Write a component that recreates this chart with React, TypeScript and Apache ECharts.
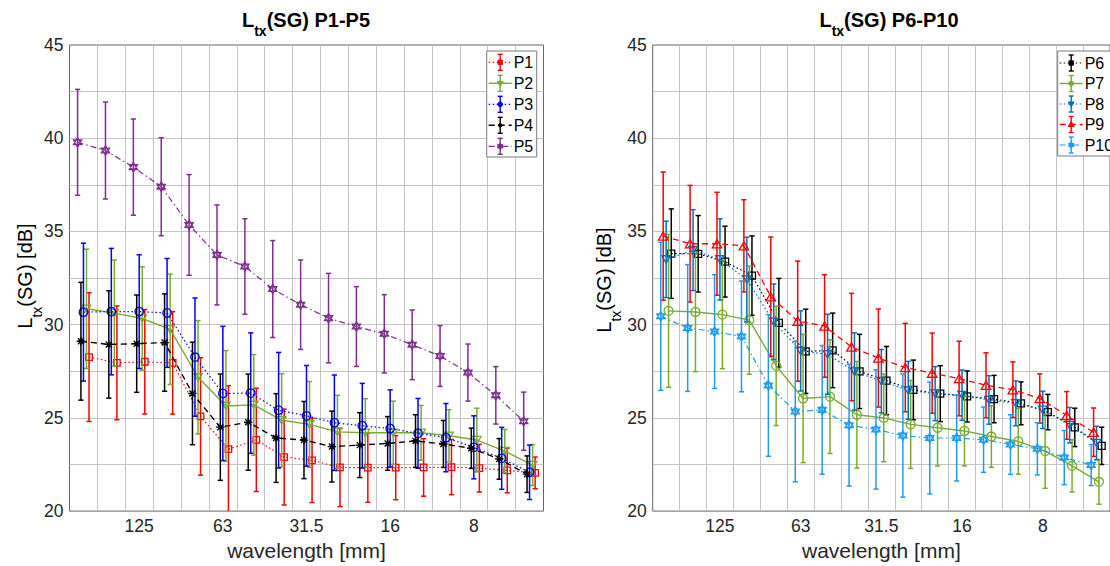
import React, { useEffect, useRef } from "react";
import * as echarts from "echarts";

// ---------- data ----------
const bands = ["200", "160", "125", "100", "80", "63", "50", "40", "31.5", "25", "20", "16", "12.5", "10", "8", "6.3", "5"];
const labeledBands = ["125", "63", "31.5", "16", "8"];

const p1Values = [28.26, 27.95, 28.01, 27.95, 25.08, 23.32, 23.82, 22.9, 22.72, 22.34, 22.33, 22.33, 22.34, 22.36, 22.3, 22.18, 22.05];
const p1Errors = [3.45, 3.05, 2.8, 2.75, 3.15, 3.4, 2.77, 2.57, 2.26, 2.1, 1.86, 1.72, 1.54, 1.48, 1.28, 1.2, 0.85];
const p2Values = [30.85, 30.62, 30.33, 29.75, 27.18, 25.64, 25.7, 24.87, 24.65, 24.25, 24.2, 24.2, 24.2, 24.04, 23.81, 23.22, 22.47];
const p2Errors = [3.2, 2.85, 2.77, 2.96, 3.04, 2.97, 2.7, 2.5, 2.3, 1.96, 1.83, 1.7, 1.47, 1.4, 1.71, 1.16, 1.1];
const p3Values = [30.67, 30.7, 30.7, 30.63, 28.26, 26.31, 26.33, 25.41, 25.11, 24.74, 24.58, 24.43, 24.17, 23.94, 23.42, 22.83, 22.08];
const p3Errors = [3.7, 3.39, 3.05, 2.92, 3.17, 3.6, 3.23, 3.1, 2.7, 2.56, 2.27, 2.07, 1.87, 1.83, 1.69, 1.66, 1.46];
const p4Values = [29.11, 28.94, 28.98, 29.04, 26.31, 24.5, 24.77, 23.92, 23.81, 23.46, 23.54, 23.63, 23.76, 23.6, 23.37, 22.8, 21.98];
const p4Errors = [3.16, 2.88, 2.61, 2.61, 2.75, 2.85, 2.58, 2.38, 2.07, 1.9, 1.74, 1.44, 1.41, 1.26, 1.08, 1.09, 0.98];
const p5Values = [39.78, 39.34, 38.45, 37.4, 35.35, 33.74, 33.12, 31.91, 31.07, 30.35, 29.9, 29.51, 28.92, 28.32, 27.43, 26.21, 24.82];
const p5Errors = [2.84, 2.6, 2.58, 2.63, 2.7, 2.68, 2.56, 2.6, 2.4, 2.4, 2.14, 2.1, 1.87, 1.63, 1.53, 1.54, 1.56];

const p6Values = [33.81, 33.8, 33.38, 32.63, 30.1, 28.57, 28.62, 27.49, 27.0, 26.5, 26.3, 26.15, 26.01, 25.78, 25.31, 24.49, 23.5];
const p6Errors = [2.4, 2.05, 1.9, 2.13, 2.38, 2.26, 2.0, 1.99, 1.83, 1.6, 1.5, 1.37, 1.27, 1.15, 0.95, 1.03, 1.0];
const p7Values = [30.74, 30.68, 30.54, 30.24, 27.79, 26.04, 26.14, 25.17, 25.0, 24.65, 24.47, 24.3, 24.0, 23.74, 23.22, 22.43, 21.57];
const p7Errors = [4.1, 3.2, 2.9, 2.9, 3.2, 3.44, 3.05, 2.86, 2.35, 2.36, 2.05, 1.88, 1.65, 1.76, 2.0, 1.4, 1.2];
const p8Values = [33.5, 34.0, 33.5, 32.42, 30.15, 28.59, 28.41, 27.49, 26.97, 26.48, 26.3, 26.22, 25.96, 25.78, 25.43, 24.61, 23.65];
const p8Errors = [2.05, 2.17, 2.18, 2.27, 2.03, 2.15, 2.15, 2.07, 1.7, 1.55, 1.45, 1.35, 1.3, 1.2, 1.0, 0.95, 0.9];
const p9Values = [34.75, 34.34, 34.34, 34.23, 31.5, 30.19, 29.93, 28.8, 28.21, 27.7, 27.4, 27.11, 26.75, 26.51, 26.04, 25.13, 24.23];
const p9Errors = [3.44, 3.13, 2.76, 2.47, 3.2, 3.22, 2.75, 2.88, 2.63, 2.37, 2.15, 2.0, 1.74, 1.49, 1.32, 1.28, 1.3];
const p10Values = [30.45, 29.82, 29.63, 29.37, 26.74, 25.34, 25.43, 24.61, 24.38, 24.05, 23.92, 23.92, 23.83, 23.57, 23.34, 22.87, 22.47];
const p10Errors = [3.97, 3.4, 3.05, 2.97, 3.8, 3.77, 3.45, 3.27, 3.2, 3.3, 3.0, 2.3, 1.75, 1.6, 1.4, 1.45, 1.1];

// ---------- styling ----------
const FONT = '"Liberation Sans", Arial, Helvetica, sans-serif';
const TXT = "#262626";
const GRIDC = "#c4c4c4";

const SYM_TRI_DOWN = "path://M0,0L10,0L5,8.66Z";
const SYM_TRI_UP = "path://M5,0L10,8.66L0,8.66Z";
const SYM_STAR = "path://M1.46,1.46L8.54,8.54M1.46,8.54L8.54,1.46M5,0L5,10M0,5L10,5";
const SYM_HEX = "path://M5,0L9.33,7.5L0.67,7.5Z M5,10L0.67,2.5L9.33,2.5Z";

const DOT = [1.5, 2.5];
const DASH = [6, 4];
const DASHDOT = [6, 3, 1.5, 3];

interface Spec {
  name: string;
  values: number[];
  errors: number[];
  color: string;
  dash: number[] | "solid";
  width: number;
  symbol: string;
  size: number;
  offset: number;
}

const leftSpecs: Spec[] = [
  { name: "P1", values: p1Values, errors: p1Errors, color: "#FF0000", dash: DOT, width: 1.2, symbol: "rect", size: 6.5, offset: 0.2 },
  { name: "P2", values: p2Values, errors: p2Errors, color: "#77AC30", dash: "solid", width: 1.4, symbol: SYM_TRI_DOWN, size: 8.5, offset: 0.11 },
  { name: "P3", values: p3Values, errors: p3Errors, color: "#0000FF", dash: DOT, width: 1.2, symbol: "circle", size: 8.5, offset: 0 },
  { name: "P4", values: p4Values, errors: p4Errors, color: "#000000", dash: DASH, width: 1.4, symbol: SYM_STAR, size: 8.5, offset: -0.09 },
  { name: "P5", values: p5Values, errors: p5Errors, color: "#7E2F8E", dash: DASHDOT, width: 1.2, symbol: SYM_HEX, size: 9.5, offset: -0.21 },
];

const rightSpecs: Spec[] = [
  { name: "P6", values: p6Values, errors: p6Errors, color: "#000000", dash: DOT, width: 1.2, symbol: "rect", size: 7, offset: 0.19 },
  { name: "P7", values: p7Values, errors: p7Errors, color: "#77AC30", dash: "solid", width: 1.4, symbol: "circle", size: 9, offset: 0.09 },
  { name: "P8", values: p8Values, errors: p8Errors, color: "#0072BD", dash: DOT, width: 1.2, symbol: SYM_TRI_DOWN, size: 8.5, offset: 0 },
  { name: "P9", values: p9Values, errors: p9Errors, color: "#FF0000", dash: DASH, width: 1.3, symbol: SYM_TRI_UP, size: 9.5, offset: -0.11 },
  { name: "P10", values: p10Values, errors: p10Errors, color: "#1F9CF0", dash: DASHDOT, width: 1.2, symbol: SYM_HEX, size: 9.5, offset: -0.2 },
];

function buildSeries(specs: Spec[], xAxisIndex: number, yAxisIndex: number): any[] {
  const out: any[] = [];
  specs.forEach((s, k) => {
    const xs = s.values.map((_, i) => i + 0.5 + s.offset);
    out.push({
      type: "custom",
      name: s.name + " err",
      xAxisIndex,
      yAxisIndex,
      clip: true,
      silent: true,
      z: 2 + k * 2,
      data: s.values.map((v, i) => [xs[i], v, s.errors[i]]),
      encode: { x: 0, y: 1 },
      renderItem: (_params: any, api: any) => {
        const x = api.value(0);
        const y = api.value(1);
        const e = api.value(2);
        const top = api.coord([x, y + e]);
        const bot = api.coord([x, y - e]);
        const w = 2.6;
        const st = { stroke: s.color, lineWidth: 1.5, fill: null };
        return {
          type: "group",
          children: [
            { type: "line", shape: { x1: top[0], y1: top[1], x2: bot[0], y2: bot[1] }, style: st },
            { type: "line", shape: { x1: top[0] - w, y1: top[1], x2: top[0] + w, y2: top[1] }, style: st },
            { type: "line", shape: { x1: bot[0] - w, y1: bot[1], x2: bot[0] + w, y2: bot[1] }, style: st },
          ],
        };
      },
    });
    out.push({
      type: "line",
      name: s.name,
      xAxisIndex,
      yAxisIndex,
      z: 3 + k * 2,
      silent: true,
      showAllSymbol: true,
      symbol: s.symbol,
      symbolSize: s.size,
      symbolKeepAspect: true,
      data: s.values.map((v, i) => [xs[i], v]),
      lineStyle: { color: s.color, width: s.width, type: s.dash },
      itemStyle: { color: "rgba(255,255,255,0)", borderColor: s.color, borderWidth: 1.3 },
    });
  });
  return out;
}

function legendMarker(sym: string, cx: number, cy: number, color: string): any {
  const st = { fill: color, stroke: color, lineWidth: 1 };
  const r = 2.2;
  if (sym === "rect") return { type: "rect", z: 101, shape: { x: cx - r, y: cy - r, width: 2 * r, height: 2 * r }, style: st };
  if (sym === "circle") return { type: "circle", z: 101, shape: { cx, cy, r: 2.4 }, style: st };
  if (sym === SYM_TRI_DOWN)
    return { type: "polygon", z: 101, shape: { points: [[cx - 3, cy - 2], [cx + 3, cy - 2], [cx, cy + 3]] }, style: st };
  if (sym === SYM_TRI_UP)
    return { type: "polygon", z: 101, shape: { points: [[cx - 3, cy + 2], [cx + 3, cy + 2], [cx, cy - 3]] }, style: st };
  if (sym === SYM_HEX)
    return {
      type: "group",
      z: 101,
      children: [
        { type: "polygon", z: 101, shape: { points: [[cx, cy - 3.2], [cx + 2.8, cy + 1.6], [cx - 2.8, cy + 1.6]] }, style: st },
        { type: "polygon", z: 101, shape: { points: [[cx, cy + 3.2], [cx + 2.8, cy - 1.6], [cx - 2.8, cy - 1.6]] }, style: st },
      ],
    };
  return { type: "circle", z: 101, shape: { cx, cy, r: 1.8 }, style: st };
}

function buildLegend(specs: Spec[], x0: number, y0: number, w: number, h: number, rowY: number, gap: number): any[] {
  const els: any[] = [
    { type: "rect", z: 100, shape: { x: x0, y: y0, width: w, height: h }, style: { fill: "#ffffff", stroke: "#7a7a7a", lineWidth: 1 } },
  ];
  specs.forEach((s, i) => {
    const cy = rowY + i * gap;
    const gx = x0 + 13.5;
    els.push({
      type: "line",
      z: 101,
      shape: { x1: x0 + 2, y1: cy, x2: x0 + 25, y2: cy },
      style: { stroke: s.color, lineWidth: s.width, lineDash: s.dash === "solid" ? null : s.dash },
    });
    const st = { stroke: s.color, lineWidth: 1.4 };
    els.push({ type: "line", z: 101, shape: { x1: gx, y1: cy - 8, x2: gx, y2: cy + 8 }, style: st });
    els.push({ type: "line", z: 101, shape: { x1: gx - 2.5, y1: cy - 8, x2: gx + 2.5, y2: cy - 8 }, style: st });
    els.push({ type: "line", z: 101, shape: { x1: gx - 2.5, y1: cy + 8, x2: gx + 2.5, y2: cy + 8 }, style: st });
    els.push(legendMarker(s.symbol, gx, cy, s.color));
    els.push({
      type: "text",
      z: 102,
      x: x0 + 27,
      y: cy,
      style: { text: s.name, fill: "#000", fontSize: 16, fontFamily: FONT, align: "left", verticalAlign: "middle" },
    });
  });
  return els;
}

function richLabel(mainSize: number, subSize: number, subPad: number, bold: boolean) {
  const fw = bold ? "bold" : "normal";
  return {
    m: { fontSize: mainSize, fontWeight: fw, fontFamily: FONT, fill: "#000", color: "#000" },
    s: { fontSize: subSize, fontWeight: fw, fontFamily: FONT, fill: "#000", color: "#000", padding: [subPad, 0, 0, 0] },
  };
}

function xAxes(gridIndex: number, nameGap: number): any[] {
  return [
    {
      type: "value",
      gridIndex,
      min: 0,
      max: 17,
      interval: 1,
      position: "bottom",
      axisLabel: { show: false },
      axisTick: { show: false },
      axisLine: { show: false },
      splitLine: { show: true, showMinLine: false, showMaxLine: false, lineStyle: { color: GRIDC, width: 1 } },
    },
    {
      type: "category",
      gridIndex,
      data: bands,
      boundaryGap: true,
      position: "bottom",
      axisLine: { show: false },
      axisTick: { show: false },
      splitLine: { show: false },
      axisLabel: {
        interval: (_i: number, v: string) => labeledBands.includes(v),
        fontSize: 17.5,
        color: TXT,
        fontFamily: FONT,
        margin: 6,
      },
      name: "wavelength [mm]",
      nameLocation: "middle",
      nameGap,
      nameTextStyle: { fontSize: 21, color: TXT, fontFamily: FONT },
    },
  ];
}

function yAxis(gridIndex: number): any {
  return {
    type: "value",
    gridIndex,
    min: 20,
    max: 45,
    interval: 2.5,
    axisLine: { show: false },
    axisTick: { show: false },
    splitLine: { show: true, showMinLine: false, showMaxLine: false, lineStyle: { color: GRIDC, width: 1 } },
    axisLabel: {
      formatter: (v: number) => (v % 5 === 0 ? String(v) : ""),
      fontSize: 17.5,
      color: TXT,
      fontFamily: FONT,
      margin: 6,
    },
  };
}

function buildOption(): any {
  const gridStyle = { show: true, borderColor: "#666666", borderWidth: 1, backgroundColor: "rgba(0,0,0,0)" };
  return {
    animation: false,
    backgroundColor: "#ffffff",
    grid: [
      { left: 69.5, top: 45, width: 474, height: 468, ...gridStyle },
      { left: 652.7, top: 45, width: 472, height: 478.3, ...gridStyle },
    ],
    xAxis: [...xAxes(0, 27), ...xAxes(1, 21)],
    yAxis: [yAxis(0), yAxis(1)],
    series: [...buildSeries(leftSpecs, 0, 0), ...buildSeries(rightSpecs, 2, 1)],
    graphic: [
      {
        type: "text",
        z: 100,
        x: 306,
        y: 20,
        style: { text: "{m|L}{s|tx}{m|(SG) P1-P5}", rich: richLabel(20, 14, 22, true), align: "center", verticalAlign: "middle", fill: "#000" },
      },
      {
        type: "text",
        z: 100,
        x: 889,
        y: 20,
        style: { text: "{m|L}{s|tx}{m|(SG) P6-P10}", rich: richLabel(20, 14, 22, true), align: "center", verticalAlign: "middle", fill: "#000" },
      },
      {
        type: "text",
        z: 100,
        x: 25,
        y: 276,
        rotation: Math.PI / 2,
        style: { text: "{m|L}{s|tx}{m|(SG) [dB]}", rich: richLabel(20, 14, 24, false), align: "center", verticalAlign: "middle", fill: "#000" },
      },
      {
        type: "text",
        z: 100,
        x: 604,
        y: 280,
        rotation: Math.PI / 2,
        style: { text: "{m|L}{s|tx}{m|(SG) [dB]}", rich: richLabel(20, 14, 24, false), align: "center", verticalAlign: "middle", fill: "#000" },
      },
      ...buildLegend(leftSpecs, 486.7, 51, 50, 106, 62.3, 21),
      ...buildLegend(rightSpecs, 1057.7, 51, 60, 105, 63, 20.5),
    ],
  };
}

export default function App() {
  const ref = useRef<HTMLDivElement>(null);
  useEffect(() => {
    if (!ref.current) return;
    const chart = echarts.init(ref.current, undefined, { renderer: "svg" });
    chart.setOption(buildOption());
    return () => {
      chart.dispose();
    };
  }, []);
  return (
    <div style={{ position: "fixed", left: 0, top: 0, width: 1110, height: 566, overflow: "hidden", background: "#fff" }}>
      <div ref={ref} style={{ width: 1110, height: 566 }} />
    </div>
  );
}
